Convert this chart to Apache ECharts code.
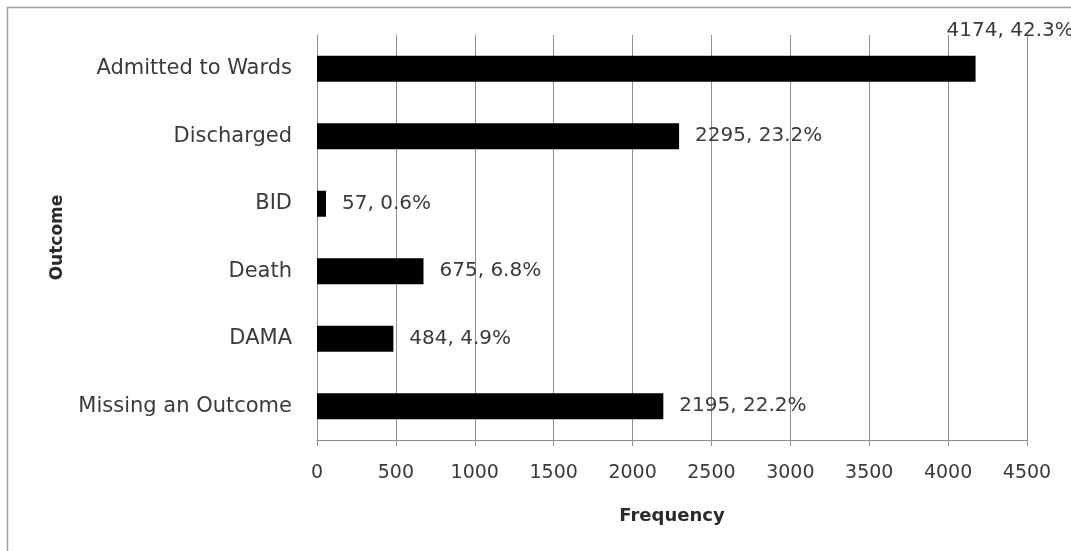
<!DOCTYPE html>
<html>
<head>
<meta charset="utf-8">
<script src="https://cdn.jsdelivr.net/npm/echarts@6/dist/echarts.min.js"></script>
<style>
html,body{margin:0;padding:0;background:#fff;}
#chart{width:1071px;height:551px;}
</style>
</head>
<body>
<div id="chart"></div>
<script>
var categories = ['Admitted to Wards', 'Discharged', 'BID', 'Death', 'DAMA', 'Missing an Outcome'];
var frequencies = [4174, 2295, 57, 675, 484, 2195];
var percents = ['42.3%', '23.2%', '0.6%', '6.8%', '4.9%', '22.2%'];
var xTicks = [0, 500, 1000, 1500, 2000, 2500, 3000, 3500, 4000, 4500];

var FONT = 'DejaVu Sans';
var TXT = '#3a3a3a';
var GRID = '#8f8f8f';

var chart = echarts.init(document.getElementById('chart'), null, {renderer: 'canvas'});

var barData = frequencies.map(function (v, i) {
  var item = {value: v};
  if (i === 0) {
    item.label = {offset: [-45, -38]};
  }
  return item;
});

chart.setOption({
  animation: false,
  backgroundColor: '#ffffff',
  graphic: [{
    type: 'rect',
    shape: {x: 7.5, y: 7.5, width: 1080, height: 560},
    style: {fill: 'none', stroke: '#a0a0a0', lineWidth: 1.5},
    silent: true
  }],
  grid: {left: 317, right: 44, top: 35, bottom: 111, containLabel: false},
  xAxis: {
    type: 'value',
    min: xTicks[0],
    max: xTicks[xTicks.length - 1],
    interval: xTicks[1] - xTicks[0],
    name: 'Frequency',
    nameLocation: 'middle',
    nameGap: 67,
    nameTextStyle: {fontFamily: FONT, fontSize: 18, fontWeight: 'bold', color: '#2a2a2a'},
    axisLine: {show: true, lineStyle: {color: GRID, width: 1}},
    axisTick: {show: true, length: 6, lineStyle: {color: GRID, width: 1}},
    axisLabel: {fontFamily: FONT, fontSize: 19, color: TXT, margin: 24,
      formatter: function (v) { return String(v); }},
    splitLine: {show: true, lineStyle: {color: GRID, width: 1}}
  },
  yAxis: {
    type: 'category',
    data: categories,
    inverse: true,
    name: 'Outcome',
    nameLocation: 'middle',
    nameRotate: 90,
    nameGap: 251,
    nameTextStyle: {fontFamily: FONT, fontSize: 17, fontWeight: 'bold', color: '#2a2a2a'},
    axisLine: {show: true, lineStyle: {color: GRID, width: 1}},
    axisTick: {show: false},
    axisLabel: {fontFamily: FONT, fontSize: 21, color: TXT, margin: 25},
    splitLine: {show: false}
  },
  series: [{
    type: 'bar',
    data: barData,
    barWidth: 26,
    itemStyle: {color: '#000000'},
    label: {
      show: true,
      position: 'right',
      distance: 16,
      fontFamily: FONT,
      fontSize: 20,
      color: TXT,
      formatter: function (p) {
        return frequencies[p.dataIndex] + ', ' + percents[p.dataIndex];
      }
    }
  }]
});
</script>
</body>
</html>
